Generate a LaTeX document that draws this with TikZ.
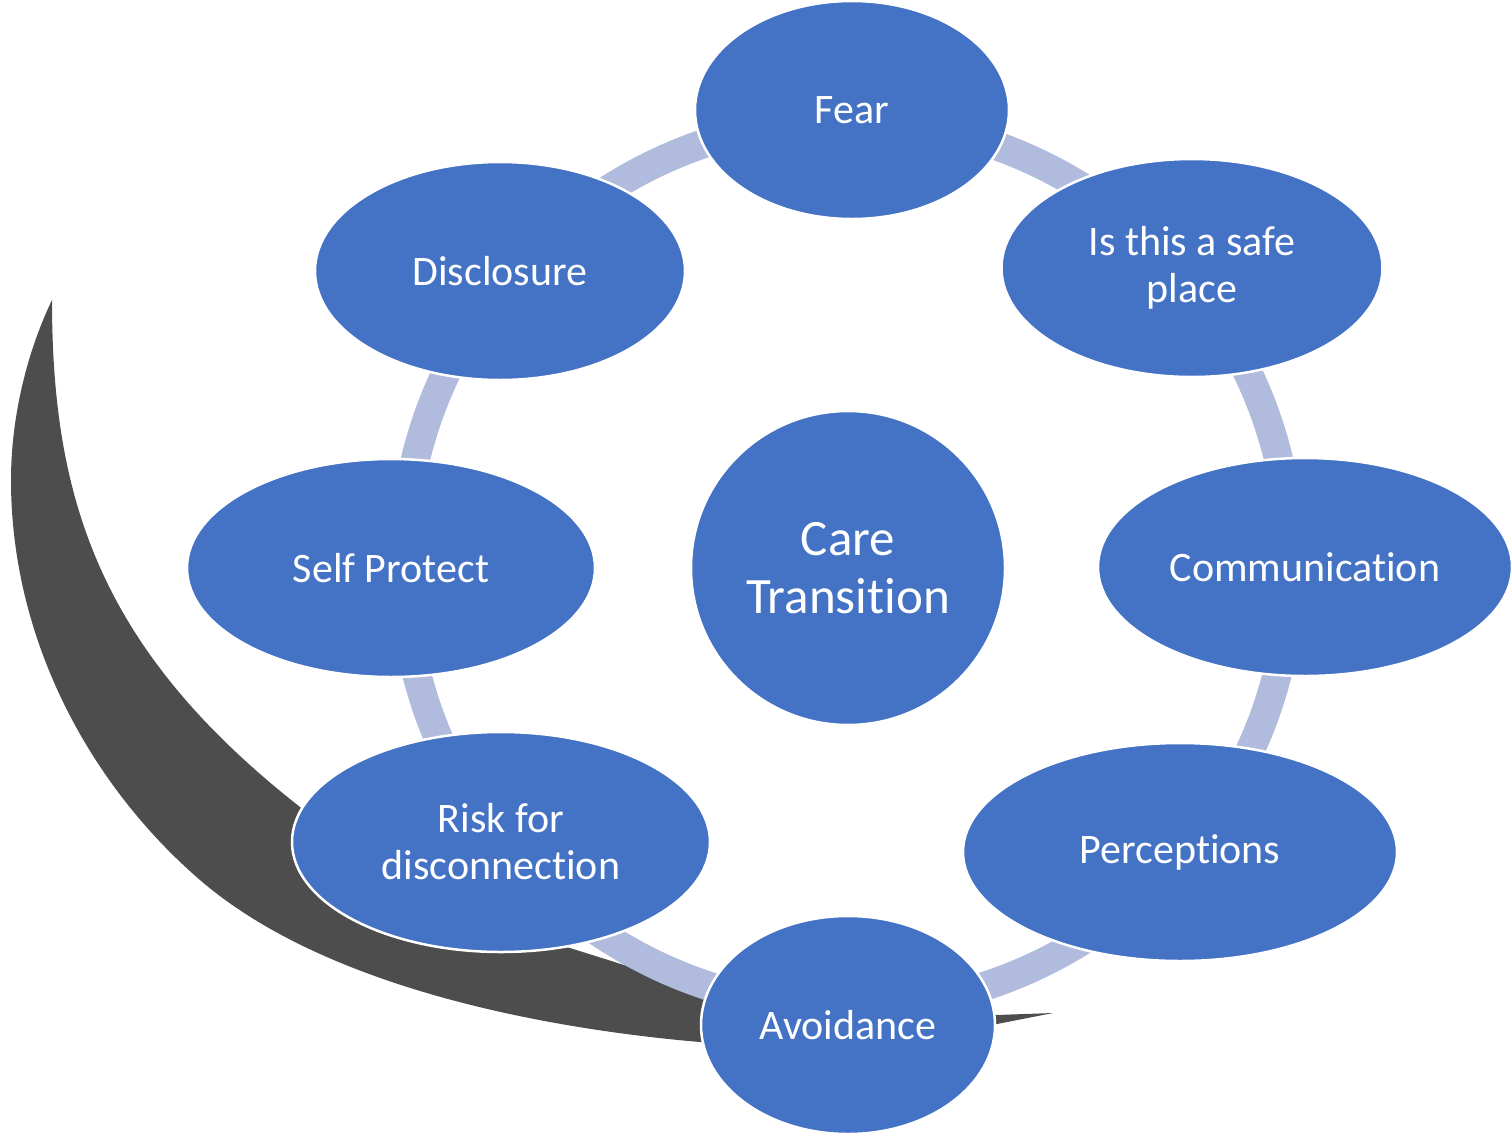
\documentclass[tikz,border=0pt]{standalone}
\usepackage{fontspec}
\setmainfont{Carlito}[Ligatures=NoCommon]
\usetikzlibrary{shapes.geometric}
\definecolor{nodeblue}{HTML}{4472C4}
\definecolor{ringblue}{HTML}{B0BBDE}
\definecolor{crescentgray}{HTML}{4D4D4D}
\tikzset{
  bub/.style={ellipse, fill=nodeblue, draw=white, line width=2.5pt, inner sep=0pt,
    text=white, align=center, font=\fontsize{42}{47}\selectfont},
  hub/.style={circle, fill=nodeblue, draw=white, line width=2.5pt, inner sep=0pt,
    text=white, align=center, font=\fontsize{51}{58}\selectfont},
  ringline/.style={draw=ringblue, line width=29pt}
}
\begin{document}
\begin{tikzpicture}[x=1pt,y=-1pt]
\useasboundingbox (0,0) rectangle (1512,1138);
% dark crescent arrow
\fill[crescentgray] (52,300)
  .. controls (28,350) and (11,415) .. (11,480)
  .. controls (11,640) and (90,785) .. (200,880)
  .. controls (330,992) and (560,1030) .. (700,1042)
  -- (850,1048) -- (997,1024) -- (1053,1013) -- (997,1015) -- (850,1005) -- (703,990)
  -- (640,970) -- (570,948)
  .. controls (470,915) and (380,870) .. (300,807)
  .. controls (100,650) and (52,500) .. (52,300) -- cycle;
% ring
\coordinate (ctr) at (847,564);
\draw[ringline] (ctr) circle [radius=444pt];
% nodes
\node[hub, minimum size=314pt] (care) at (848,568) {Care\\Transit\kern0pt ion};
\node[bub, minimum width=314pt, minimum height=218pt] (fear) at (852,110) {Fear};
\node[bub, minimum width=381pt, minimum height=218pt] (safe) at (1192,268) {Is this a safe\\place};
\node[bub, minimum width=414pt, minimum height=218pt] (comm) at (1305,567) {Communicat\kern0pt ion};
\node[bub, minimum width=434pt, minimum height=218pt] (perc) at (1180,852) {Perceptions};
\node[bub, minimum width=294pt, minimum height=218pt] (avoid) at (848,1025) {Avoidance};
\node[bub, minimum width=418pt, minimum height=220pt] (risk) at (501,842) {Risk for\\disconnection};
\node[bub, minimum width=408pt, minimum height=218pt] (self) at (391,568) {Self Protect};
\node[bub, minimum width=370pt, minimum height=218pt] (disc) at (500,271) {Disclosure};
\end{tikzpicture}
\end{document}
